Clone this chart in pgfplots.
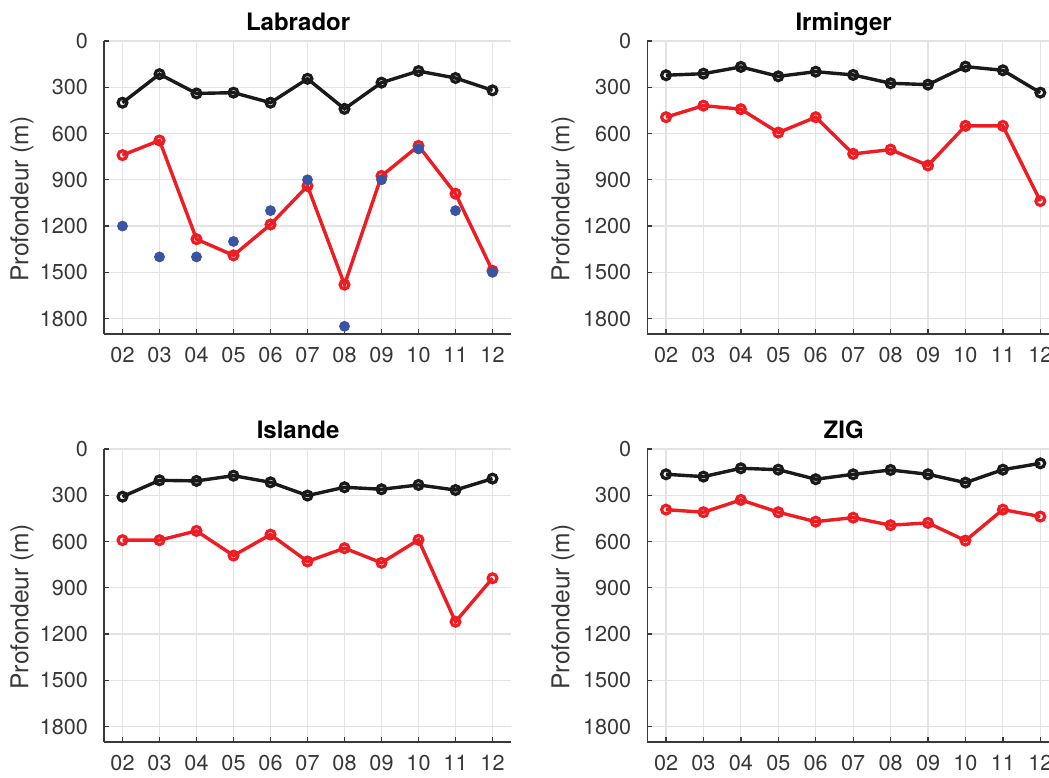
\documentclass[border=0pt]{standalone}
\usepackage{fontspec}
\setmainfont{TeX Gyre Heros}
\usepackage{pgfplots}
\pgfplotsset{compat=1.18}

\definecolor{axgray}{HTML}{383838}
\definecolor{gridgray}{HTML}{E3E3E3}
\definecolor{mred}{HTML}{EE1D23}
\definecolor{mblue}{HTML}{3A54A4}
\definecolor{mblack}{HTML}{1A1A1A}

\pgfplotsset{
  every axis title shift=0pt,
  prof/.style={
    scale only axis, width=203.5pt, height=146.5pt,
    anchor=north west,
    xmin=1.5, xmax=12.5, ymin=0, ymax=1900, y dir=reverse,
    xtick={2,...,12},
    xticklabels={02,03,04,05,06,07,08,09,10,11,12},
    ytick={0,300,...,1800},
    axis x line*=bottom, axis y line*=left,
    axis line style={axgray, line width=0.65pt},
    tick style={axgray, line width=0.65pt},
    major tick length=2.3pt,
    tick align=inside,
    grid=major, major grid style={gridgray, line width=0.6pt},
    /pgf/number format/assume math mode=true,
    /pgf/number format/1000 sep={},
    ticklabel style={font=\fontsize{10.8}{12}\selectfont, text=axgray, inner sep=0pt},
    xticklabel style={anchor=base, yshift=-14.3pt},
    yticklabel style={anchor=east, xshift=-7.85pt},
    ylabel={Profondeur (m)},
    ylabel style={at={(axis description cs:-0.2015,0.461)}, anchor=center,
      font=\fontsize{12.3}{14}\selectfont, text=axgray},
    title style={at={(axis description cs:0.477,1)}, anchor=base, yshift=5.15pt,
      font=\bfseries\fontsize{12}{14}\selectfont},
    clip=false,
  },
  rightcol/.style={width=205.85pt,
    ylabel style={at={(axis description cs:-0.2048,0.461)}}},
  blk/.style={mblack, line width=1.7pt, mark=o, mark size=2.2pt,
    mark options={line width=1.6pt}},
  rd/.style={mred, line width=1.7pt, mark=o, mark size=2.2pt,
    mark options={line width=1.6pt}},
  bl/.style={only marks, mark=*, mark size=2.5pt,
    mark options={draw=mblue, fill=mblue}},
}

\begin{document}
\begin{tikzpicture}

% Labrador
\begin{axis}[prof, at={(52pt,-20.5pt)}, title={Labrador}]
\addplot[blk] coordinates {(2,400) (3,215) (4,340) (5,335) (6,400) (7,245) (8,440) (9,270) (10,195) (11,240) (12,320)};
\addplot[rd] coordinates {(2,740) (3,645) (4,1285) (5,1390) (6,1190) (7,940) (8,1580) (9,875) (10,680) (11,990) (12,1490)};
\addplot[bl] coordinates {(2,1200) (3,1400) (4,1400) (5,1300) (6,1100) (7,900) (8,1850) (9,900) (10,700) (11,1100) (12,1500)};
\end{axis}

% Irminger
\begin{axis}[prof, rightcol, at={(323.65pt,-20.5pt)}, title={Irminger}]
\addplot[blk] coordinates {(2,222) (3,212) (4,168) (5,229) (6,199) (7,220) (8,274) (9,283) (10,166) (11,190) (12,335)};
\addplot[rd] coordinates {(2,494) (3,419) (4,442) (5,594) (6,494) (7,732) (8,704) (9,807) (10,550) (11,550) (12,1038)};
\end{axis}

% Islande
\begin{axis}[prof, at={(52pt,-224.5pt)}, title={Islande}]
\addplot[blk] coordinates {(2,309) (3,203) (4,207) (5,173) (6,216) (7,302) (8,248) (9,261) (10,233) (11,266) (12,192)};
\addplot[rd] coordinates {(2,591) (3,591) (4,531) (5,691) (6,555) (7,729) (8,643) (9,738) (10,589) (11,1120) (12,838)};
\end{axis}

% ZIG
\begin{axis}[prof, rightcol, at={(323.65pt,-224.5pt)}, title={ZIG}]
\addplot[blk] coordinates {(2,164) (3,179) (4,125) (5,134) (6,196) (7,164) (8,136) (9,164) (10,218) (11,134) (12,93)};
\addplot[rd] coordinates {(2,393) (3,410) (4,330) (5,410) (6,471) (7,445) (8,494) (9,479) (10,594) (11,393) (12,438)};
\end{axis}

\pgfresetboundingbox
\useasboundingbox (0,0) rectangle (524.5pt,-388.5pt);
\end{tikzpicture}
\end{document}
